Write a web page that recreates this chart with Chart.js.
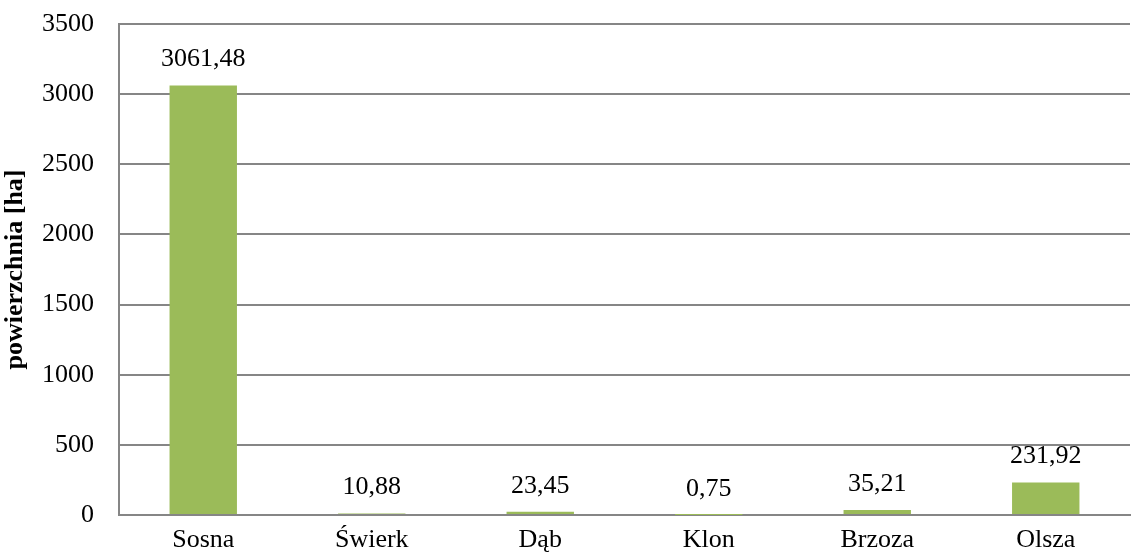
<!DOCTYPE html>
<html>
<head>
<meta charset="utf-8">
<script src="https://cdn.jsdelivr.net/npm/chart.js@4/dist/chart.umd.min.js"></script>
<style>
  html, body { margin: 0; padding: 0; background: #ffffff; }
  #wrap { width: 1132px; height: 558px; position: relative; }
</style>
</head>
<body>
<div id="wrap"><canvas id="chart" width="1132" height="558"></canvas></div>
<script>
// Tree species and their area in hectares
const species = ['Sosna', 'Świerk', 'Dąb', 'Klon', 'Brzoza', 'Olsza'];
const areaHa = [3061.48, 10.88, 23.45, 0.75, 35.21, 231.92];
const areaLabels = ['3061,48', '10,88', '23,45', '0,75', '35,21', '231,92'];
const yTicks = [0, 500, 1000, 1500, 2000, 2500, 3000, 3500];

const FONT = '"Liberation Serif", "Times New Roman", serif';

// Writes each bar's value above it
const valueLabels = {
  id: 'valueLabels',
  afterDatasetsDraw(chart) {
    const ctx = chart.ctx;
    const meta = chart.getDatasetMeta(0);
    ctx.save();
    ctx.font = '26px ' + FONT;
    ctx.fillStyle = '#000000';
    ctx.textAlign = 'center';
    ctx.textBaseline = 'middle';
    meta.data.forEach((bar, i) => {
      ctx.fillText(areaLabels[i], bar.x, bar.y - 26);
    });
    ctx.restore();
  }
};

new Chart(document.getElementById('chart'), {
  type: 'bar',
  data: {
    labels: species,
    datasets: [{
      data: areaHa,
      backgroundColor: '#9BBB59',
      borderWidth: 0,
      barPercentage: 0.4,
      categoryPercentage: 1.0
    }]
  },
  options: {
    responsive: false,
    animation: false,
    devicePixelRatio: 1,
    layout: { padding: { top: 24, right: 2, bottom: 0, left: 0 } },
    plugins: {
      legend: { display: false },
      tooltip: { enabled: false }
    },
    scales: {
      x: {
        grid: { display: false, drawTicks: false },
        border: { display: true, color: '#868686', width: 2 },
        ticks: {
          color: '#000000',
          font: { family: FONT, size: 26 },
          padding: 10,
          maxRotation: 0
        },
        afterFit(scale) {
          scale.height = 43;
          scale.paddingLeft = 0;
          scale.paddingRight = 0;
        }
      },
      y: {
        min: 0,
        max: 3500,
        afterBuildTicks(scale) { scale.ticks = yTicks.map(v => ({ value: v })); },
        grid: { color: '#868686', lineWidth: 2, drawTicks: false },
        border: { display: true, color: '#868686', width: 2 },
        ticks: {
          color: '#000000',
          font: { family: FONT, size: 26 },
          padding: 25,
          callback: (v) => String(v)
        },
        title: {
          display: true,
          text: 'powierzchnia [ha]',
          color: '#000000',
          font: { family: FONT, size: 26, weight: 'bold' },
          padding: { top: 0, bottom: 0 }
        },
        afterFit(scale) {
          scale.width = 119;
          scale.paddingTop = 0;
          scale.paddingBottom = 0;
        }
      }
    }
  },
  plugins: [valueLabels]
});
</script>
</body>
</html>
